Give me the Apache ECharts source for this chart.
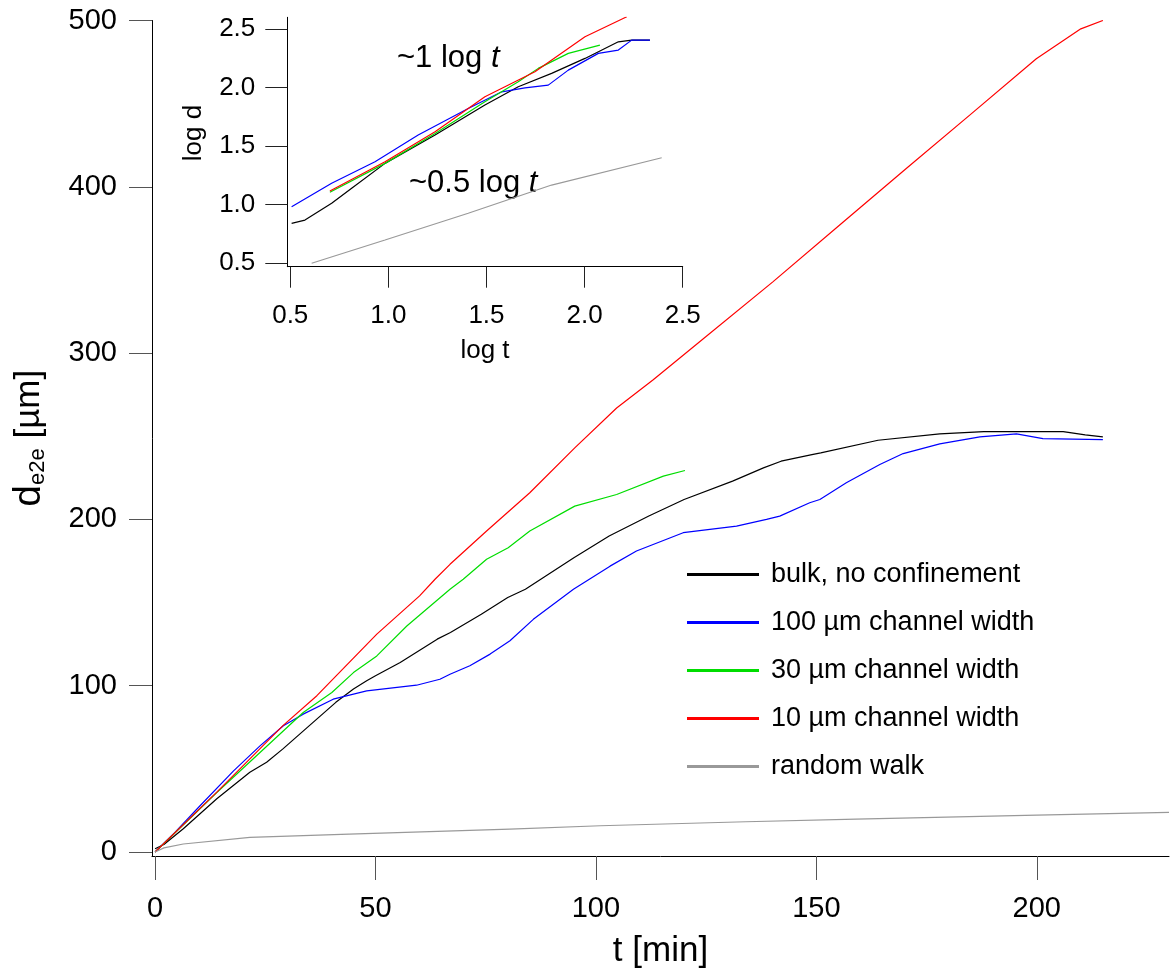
<!DOCTYPE html>
<html>
<head>
<meta charset="utf-8">
<script src="https://cdn.jsdelivr.net/npm/echarts@6.0.0/dist/echarts.min.js"></script>
<style>
  html, body { margin: 0; padding: 0; background: #fff; }
  #chart { width: 1170px; height: 974px; }
</style>
</head>
<body>
<div id="chart"></div>
<script>
// main plot, t [min] vs d_e2e [µm]
const bulkT = [0, 2, 6.4, 14, 21.5, 25.3, 29, 35, 41, 45, 48, 50, 55.6, 64, 67, 74, 80, 84, 95, 103, 112, 120, 131, 138, 142, 149, 151, 164, 178, 188, 206, 211, 215]
const bulkD = [2, 4.5, 14, 32, 48, 54, 62, 76, 90, 98, 103, 106, 114, 128, 132, 143, 153, 158, 177, 190, 202, 212, 223, 231, 235, 239, 240, 247.6, 251.4, 252.8, 252.8, 250.8, 249.6]

const ch100T = [0, 4.5, 10.2, 17.8, 23.8, 29.1, 33.6, 40.4, 48, 59.3, 64.6, 66.9, 71.4, 76, 80.5, 85.8, 94.9, 103.2, 109.2, 119.8, 131.9, 138.7, 141.7, 148.5, 150.8, 156.8, 164.4, 169.7, 178, 187.1, 195.4, 201.4, 215]
const ch100D = [0, 11.8, 27.8, 48.8, 63.8, 75.9, 82.9, 91.9, 96.9, 100.3, 103.9, 106.9, 112, 119, 127, 139.9, 158, 171.9, 181, 192, 196, 200, 202, 210, 212, 222, 233, 239.6, 245.4, 249.6, 251.4, 248.6, 248]

const ch30T = [0, 14, 33.6, 40.1, 45, 50.3, 57.1, 66.9, 69.9, 75.2, 80.1, 85, 95.2, 104.7, 115.3, 120.2]
const ch30D = [0, 35.8, 83.9, 95.9, 107.9, 117.9, 135.9, 158, 164, 176, 183, 193, 208, 215, 226, 229.4]

const ch10T = [0, 14, 29, 36.7, 50.3, 60, 63.5, 66.9, 75.2, 85, 95.2, 104.7, 113, 123.6, 140.2, 155.3, 170.4, 185.2, 199.9, 210, 215]
const ch10D = [0, 36, 76, 94, 131, 154, 164, 173, 193, 216, 243, 267, 284, 307, 343, 377, 411, 444, 477, 495, 500]

const rwT = [0, 2, 6.4, 21.5, 44, 80.5, 101, 134, 159, 200, 230]
const rwD = [0, 2.5, 4.8, 8.8, 10.8, 13.8, 15.8, 18.2, 19.8, 22.2, 23.8]

// inset, log t vs log d
const inBulkX = [0.507, 0.575, 0.711, 0.813, 0.983, 1.238, 1.492, 1.662, 1.832, 2.002, 2.172, 2.24, 2.333]
const inBulkY = [0.841, 0.869, 1.012, 1.14, 1.353, 1.595, 1.851, 2.007, 2.121, 2.249, 2.391, 2.405, 2.405]
const in100X = [0.507, 0.711, 0.932, 1.152, 1.407, 1.578, 1.696, 1.815, 1.917, 2.07, 2.172, 2.24, 2.333]
const in100Y = [0.983, 1.183, 1.367, 1.595, 1.822, 1.964, 1.998, 2.021, 2.149, 2.292, 2.32, 2.405, 2.405]
const in30X = [0.702, 0.983, 1.238, 1.492, 1.662, 1.764, 1.917, 2.078]
const in30Y = [1.107, 1.353, 1.609, 1.88, 2.05, 2.164, 2.292, 2.363]
const in10X = [0.702, 0.983, 1.238, 1.492, 1.747, 2.002, 2.215]
const in10Y = [1.117, 1.367, 1.623, 1.922, 2.135, 2.434, 2.604]
const inRwX = [0.609, 0.983, 1.407, 1.832, 2.393]
const inRwY = [0.5, 0.699, 0.927, 1.168, 1.401]

const xTicks = [0, 50, 100, 150, 200]
const yTicks = [0, 100, 200, 300, 400, 500]
const inTicks = [0.5, 1.0, 1.5, 2.0, 2.5]

const names = ['bulk, no confinement', '100 µm channel width', '30 µm channel width', '10 µm channel width', 'random walk']
const colors = ['#000000', '#0000ff', '#00dd00', '#ff0000', '#999999']

const FONT = 'Liberation Sans, Arial, sans-serif'

function zip(a, b) {
    return a.map((v, i) => [v, b[i]])
}

const mainData = [zip(bulkT, bulkD), zip(ch100T, ch100D), zip(ch30T, ch30D), zip(ch10T, ch10D), zip(rwT, rwD)]
const insetData = [zip(inBulkX, inBulkY), zip(in100X, in100Y), zip(in30X, in30Y), zip(in10X, in10Y), zip(inRwX, inRwY)]

const seriesData = []
names.forEach((item, index) => {
    seriesData.push({
        name: item,
        type: 'line',
        xAxisIndex: 0,
        yAxisIndex: 0,
        data: mainData[index],
        symbol: 'none',
        clip: true,
        lineStyle: {color: colors[index], width: 1.2},
        itemStyle: {color: colors[index]}
    })
    seriesData.push({
        name: item,
        type: 'line',
        xAxisIndex: 1,
        yAxisIndex: 1,
        data: insetData[index],
        symbol: 'none',
        clip: true,
        lineStyle: {color: colors[index], width: 1.2},
        itemStyle: {color: colors[index]}
    })
})

function axisBase(ticks, tickLen, tickColor, labelSize, margin) {
    return {
        type: 'value',
        axisLine: {show: true, onZero: false, lineStyle: {color: '#000', width: 1}},
        axisTick: {show: true, inside: false, length: tickLen, customValues: ticks, lineStyle: {color: tickColor, width: 1}},
        axisLabel: {show: true, customValues: ticks, fontSize: labelSize, color: '#000', fontFamily: FONT, margin: margin},
        splitLine: {show: false}
    }
}

const mainX = Object.assign(axisBase(xTicks, 24, '#555', 29, 38), {
    gridIndex: 0, min: -0.7, max: 230,
    name: 't [min]', nameLocation: 'middle', nameGap: 78,
    nameTextStyle: {fontSize: 35, color: '#000', fontFamily: FONT}
})
const mainY = Object.assign(axisBase(yTicks, 23, '#555', 29, 35), {
    gridIndex: 0, min: -2.4, max: 500,
    name: '{d|d}{s|e2e}{n| [µm]}', nameLocation: 'middle', nameGap: 103,
    nameTextStyle: {
        color: '#000', fontFamily: FONT,
        rich: {
            d: {fontSize: 39, color: '#000', fontFamily: FONT},
            n: {fontSize: 35, color: '#000', fontFamily: FONT},
            s: {fontSize: 22, color: '#000', fontFamily: FONT, verticalAlign: 'bottom', padding: [12, 0, 0, 0]}
        }
    }
})
const insetX = Object.assign(axisBase(inTicks, 21, '#222', 26, 36), {
    gridIndex: 1, min: 0.485, max: 2.5,
    name: 'log t', nameLocation: 'middle', nameGap: 71,
    nameTextStyle: {fontSize: 26, color: '#000', fontFamily: FONT}
})
insetX.axisLabel.formatter = v => v.toFixed(1)
const insetY = Object.assign(axisBase(inTicks, 22, '#222', 26, 32), {
    gridIndex: 1, min: 0.471, max: 2.6,
    name: 'log d', nameLocation: 'middle', nameGap: 80,
    nameTextStyle: {fontSize: 26, color: '#000', fontFamily: FONT, padding: [0, 0, 0, 18]}
})
insetY.axisLabel.formatter = v => v.toFixed(1)

const options = {
    backgroundColor: '#fff',
    animation: false,
    textStyle: {fontFamily: FONT},
    grid: [
        {left: 152, right: 1, top: 20.5, bottom: 117, containLabel: false},
        {left: 287.3, right: 487.3, top: 17.3, bottom: 707.3, containLabel: false}
    ],
    legend: {
        orient: 'vertical',
        left: 682,
        top: 556,
        itemWidth: 72,
        itemHeight: 3,
        itemGap: 21,
        icon: 'rect',
        textStyle: {fontSize: 27, color: '#000', fontFamily: FONT, padding: [0, 0, 0, 7]},
        data: names
    },
    xAxis: [mainX, insetX],
    yAxis: [mainY, insetY],
    graphic: [
        {
            type: 'text', left: 397, top: 43,
            style: {
                text: '{n|~1 log }{i|t}',
                rich: {
                    n: {fontSize: 31, fill: '#000', fontFamily: FONT},
                    i: {fontSize: 31, fill: '#000', fontFamily: FONT, fontStyle: 'italic'}
                }
            }
        },
        {
            type: 'text', left: 409, top: 168,
            style: {
                text: '{n|~0.5 log }{i|t}',
                rich: {
                    n: {fontSize: 31, fill: '#000', fontFamily: FONT},
                    i: {fontSize: 31, fill: '#000', fontFamily: FONT, fontStyle: 'italic'}
                }
            }
        }
    ],
    series: seriesData
}

const chart = echarts.init(document.getElementById('chart'), null, {renderer: 'canvas'})
chart.setOption(options)
</script>
</body>
</html>
